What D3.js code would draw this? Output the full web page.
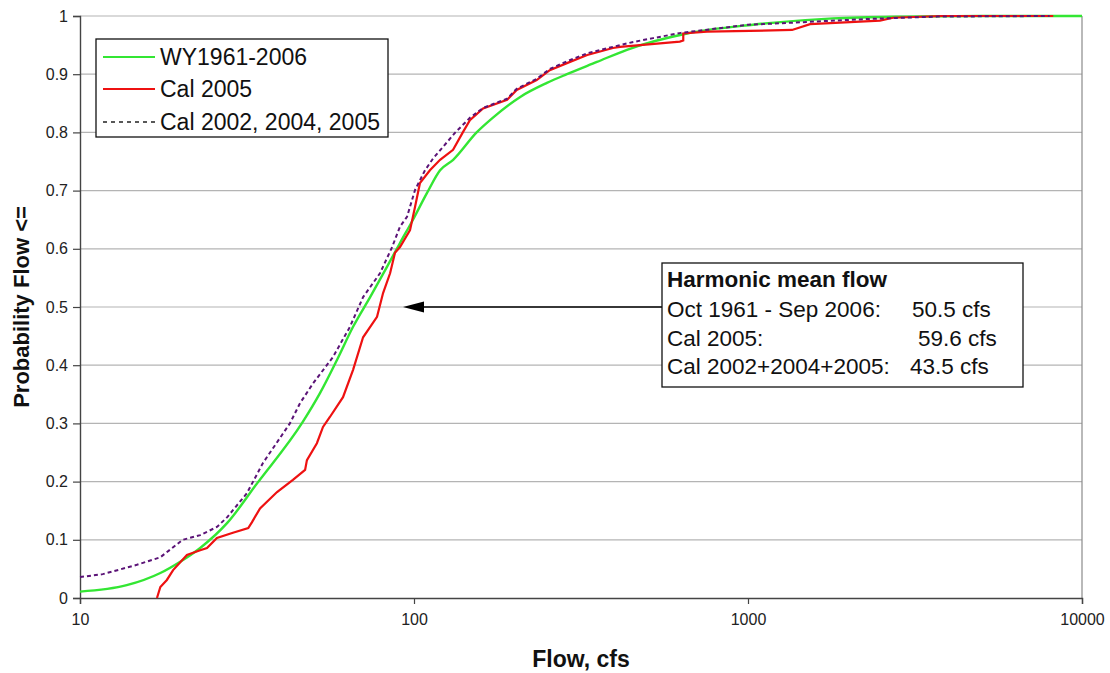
<!DOCTYPE html>
<html>
<head>
<meta charset="utf-8">
<script src="https://cdn.jsdelivr.net/npm/d3@7"></script>
<style>
  html, body { margin: 0; padding: 0; background: #fff; }
  svg { display: block; font-family: Arial, "Liberation Sans", sans-serif; }
</style>
</head>
<body>
<svg id="chart" width="1110" height="673"></svg>
<script>
// ---------------- data ----------------
const seriesNames = ["WY1961-2006", "Cal 2005", "Cal 2002, 2004, 2005"];

const wyFlow = [10, 13.8, 17.4, 19.9, 22.9, 27.6, 33.9, 46.5, 52.3, 58.8, 65.7, 73.9, 83.0, 90.8, 99.3, 109.4, 119.7, 131, 154, 172, 208, 250, 287, 353, 434, 657, 1035, 1797, 2900, 5000, 10000];
const wyProb = [0.011, 0.022, 0.043, 0.062, 0.086, 0.129, 0.197, 0.303, 0.352, 0.409, 0.466, 0.517, 0.569, 0.61, 0.65, 0.696, 0.735, 0.753, 0.8, 0.825, 0.861, 0.885, 0.9, 0.921, 0.942, 0.97, 0.985, 0.996, 0.999, 1.0, 1.0];

const cal05Flow = [17.0, 17.4, 18.2, 19.0, 20.9, 22.9, 24.0, 25.7, 28.7, 31.9, 32.7, 34.6, 38.9, 43.4, 47.2, 47.8, 51.2, 53.4, 56.0, 61.3, 65.7, 70.4, 77.5, 80.8, 84.8, 87.7, 90.8, 97.3, 100.7, 104.2, 111.6, 119.7, 130.9, 140, 147, 161, 190, 203, 233, 255, 287, 330, 394, 414, 625, 640, 640, 754, 1355, 1534, 2484, 2717, 3800, 8200];
const cal05Prob = [0, 0.019, 0.031, 0.048, 0.074, 0.082, 0.086, 0.103, 0.112, 0.12, 0.13, 0.154, 0.182, 0.203, 0.22, 0.237, 0.266, 0.294, 0.311, 0.345, 0.392, 0.448, 0.483, 0.524, 0.558, 0.593, 0.603, 0.632, 0.672, 0.713, 0.735, 0.753, 0.77, 0.8, 0.821, 0.841, 0.856, 0.873, 0.89, 0.907, 0.919, 0.933, 0.945, 0.947, 0.956, 0.958, 0.970, 0.973, 0.976, 0.986, 0.992, 0.997, 1.0, 1.0];

const calMultiFlow = [10, 11.7, 14.8, 17.4, 20.3, 22.9, 25.7, 27.6, 31.6, 35.3, 42.5, 45.6, 49.9, 57.2, 64.3, 70.4, 79.1, 86.0, 90.8, 95.3, 100.7, 107.9, 114, 133, 147, 161, 190, 203, 233, 255, 287, 330, 394, 450, 520, 630, 1000, 1300, 2300, 3700, 8000];
const calMultiProb = [0.036, 0.041, 0.057, 0.070, 0.1, 0.108, 0.122, 0.139, 0.18, 0.232, 0.30, 0.335, 0.369, 0.414, 0.466, 0.517, 0.558, 0.603, 0.638, 0.655, 0.701, 0.735, 0.755, 0.8, 0.825, 0.842, 0.858, 0.875, 0.892, 0.909, 0.922, 0.936, 0.947, 0.955, 0.962, 0.971, 0.985, 0.988, 0.995, 0.999, 1.0];

const xTicks = [10, 100, 1000, 10000];
const yTicks = [0, 0.1, 0.2, 0.3, 0.4, 0.5, 0.6, 0.7, 0.8, 0.9, 1];
const yTickLabels = ["0", "0.1", "0.2", "0.3", "0.4", "0.5", "0.6", "0.7", "0.8", "0.9", "1"];

const annotTitle = "Harmonic mean flow";
const annotLabels = ["Oct 1961 - Sep 2006:", "Cal 2005:", "Cal 2002+2004+2005:"];
const annotValues = ["50.5 cfs", "59.6 cfs", "43.5 cfs"];
const arrowProb = 0.5;

// ---------------- layout ----------------
const svg = d3.select("#chart");
const mL = 80, mR = 1082, mT = 16, mB = 598;

const x = d3.scaleLog().domain([10, 10000]).range([mL, mR]);
const y = d3.scaleLinear().domain([0, 1]).range([mB, mT]);

// gridlines
svg.append("g").selectAll("line").data(yTicks.slice(1)).join("line")
  .attr("x1", mL).attr("x2", mR)
  .attr("y1", d => y(d)).attr("y2", d => y(d))
  .attr("stroke", "#b4b4b4").attr("stroke-width", 1.2);

// right border
svg.append("line").attr("x1", mR).attr("x2", mR).attr("y1", mT).attr("y2", mB)
  .attr("stroke", "#8a8a8a").attr("stroke-width", 1.2);

// axes
const xAxis = svg.append("g").attr("transform", `translate(0,${mB})`)
  .call(d3.axisBottom(x).tickValues(xTicks).tickFormat(d3.format("d")).tickSize(6).tickPadding(10));
const yAxis = svg.append("g").attr("transform", `translate(${mL},0)`)
  .call(d3.axisLeft(y).tickValues(yTicks).tickFormat((d, i) => yTickLabels[i]).tickSize(7).tickPadding(5));
[xAxis, yAxis].forEach(g => {
  g.select(".domain").attr("stroke", "#444").attr("stroke-width", 1.4);
  g.selectAll(".tick line").attr("stroke", "#444").attr("stroke-width", 1.2);
  g.selectAll(".tick text").attr("font-size", 16).attr("fill", "#222")
    .attr("font-family", "Arial, 'Liberation Sans', sans-serif");
});

// series
const line = d3.line().x(d => x(d[0])).y(d => y(d[1]));
const smooth = d3.line().x(d => x(d[0])).y(d => y(d[1])).curve(d3.curveMonotoneX);

const wy = wyFlow.map((f, i) => [f, wyProb[i]]);
const c05 = cal05Flow.map((f, i) => [f, cal05Prob[i]]);
const cm = calMultiFlow.map((f, i) => [f, calMultiProb[i]]);

const colors = ["#33e633", "#ee1111", "#5b1377"];

svg.append("path").datum(wy).attr("d", smooth).attr("fill", "none")
  .attr("stroke", colors[0]).attr("stroke-width", 2.4);
svg.append("path").datum(c05).attr("d", line).attr("fill", "none")
  .attr("stroke", colors[1]).attr("stroke-width", 2.2);
svg.append("path").datum(cm).attr("d", line).attr("fill", "none")
  .attr("stroke", colors[2]).attr("stroke-width", 2).attr("stroke-dasharray", "4,3");

// legend
const lg = svg.append("g");
lg.append("rect").attr("x", 96).attr("y", 39).attr("width", 292).attr("height", 98)
  .attr("fill", "#fff").attr("stroke", "#111").attr("stroke-width", 1.3);
const legendY = [57, 89, 122];
seriesNames.forEach((name, i) => {
  const l = lg.append("line").attr("x1", 103).attr("x2", 155)
    .attr("y1", legendY[i]).attr("y2", legendY[i])
    .attr("stroke", i === 2 ? "#222" : colors[i]).attr("stroke-width", 2.2);
  if (i === 2) l.attr("stroke-dasharray", "4,4").attr("stroke-width", 1.6);
  lg.append("text").attr("x", 160).attr("y", legendY[i] + 8)
    .attr("font-size", 23).attr("fill", "#111").text(name);
});

// annotation arrow
const ay = y(arrowProb);
svg.append("line").attr("x1", 662).attr("x2", 418).attr("y1", ay).attr("y2", ay)
  .attr("stroke", "#000").attr("stroke-width", 1.6);
svg.append("path").attr("d", `M403,${ay} L424,${ay - 5.5} L424,${ay + 5.5} Z`).attr("fill", "#000");

// annotation box
const ab = svg.append("g");
ab.append("rect").attr("x", 662).attr("y", 263).attr("width", 361).attr("height", 124)
  .attr("fill", "#fff").attr("stroke", "#111").attr("stroke-width", 1.3);
ab.append("text").attr("x", 667).attr("y", 287).attr("font-size", 22.5).attr("font-weight", "bold")
  .attr("fill", "#111").text(annotTitle);
const annY = [317, 346, 374];
const valX = [912, 918, 910];
annotLabels.forEach((t, i) => {
  ab.append("text").attr("x", 667).attr("y", annY[i]).attr("font-size", 22.5).attr("fill", "#111").text(t);
  ab.append("text").attr("x", valX[i]).attr("y", annY[i]).attr("font-size", 22.5).attr("fill", "#111").text(annotValues[i]);
});

// axis titles
svg.append("text").attr("x", (mL + mR) / 2).attr("y", 667).attr("text-anchor", "middle")
  .attr("font-size", 23).attr("font-weight", "bold").attr("fill", "#111").text("Flow, cfs");
svg.append("text").attr("transform", `translate(29,${(mT + mB) / 2}) rotate(-90)`)
  .attr("text-anchor", "middle").attr("font-size", 22).attr("font-weight", "bold").attr("fill", "#111")
  .text("Probability Flow <=");
</script>
</body>
</html>
